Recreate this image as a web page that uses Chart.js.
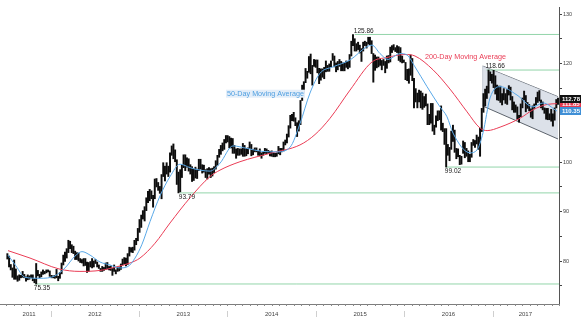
<!DOCTYPE html>
<html>
<head>
<meta charset="utf-8">
<script src="https://cdn.jsdelivr.net/npm/chart.js@4.4.1/dist/chart.umd.min.js"></script>
<style>
  html, body { margin: 0; padding: 0; background: #fff; }
  canvas { display: block; }
</style>
</head>
<body>
<canvas id="chart" width="581" height="322"></canvas>
<script>
// USD/JPY weekly trading ranges, first week Jul 4-8 2011, one row per calendar year
const weekHigh = [
  81.5, 81.0, 79.3, 78.6, 80.2, 78.4, 77.0, 77.2, 77.1, 77.9, 77.3, 76.8, 77.2, 77.0, 77.2, 77.2, 76.4, 79.5, 78.1, 77.3, 77.8, 78.2, 77.9, 78.2, 78.2, 78.0,
  77.1, 77.0, 77.1, 78.3, 76.9, 77.7, 79.6, 81.2, 81.8, 82.5, 84.2, 84.0, 83.3, 83.0, 82.0, 81.7, 81.6, 80.5, 80.3, 80.5, 80.5, 79.8, 79.7, 79.9, 80.5, 80.0,
  80.3, 79.8, 79.2, 78.5, 78.9, 78.7, 79.6, 79.7, 78.9, 79.0, 78.5, 79.2, 78.2, 78.7, 78.8, 79.4, 80.4, 80.7, 80.6, 81.5, 82.8, 82.7, 82.8, 84.2, 84.6, 86.6,
  88.4, 89.3, 90.2, 91.0, 92.8, 94.1, 94.5, 94.2, 93.3, 96.6, 96.7, 95.9, 95.1, 97.5, 99.9, 99.2, 99.9, 99.2, 101.9, 103.3, 103.7, 102.5, 100.5, 98.0, 98.5, 99.4,
  101.5, 101.5, 100.9, 100.7, 99.5, 99.1, 98.6, 99.0, 98.6, 100.6, 100.6, 99.5, 99.4, 98.5, 98.7, 98.9, 98.7, 98.8, 99.1, 100.3, 101.4, 102.6, 103.4, 103.9, 104.6, 105.4,
  105.4, 105.2, 104.9, 104.8, 103.4, 102.7, 102.8, 102.7, 102.7, 103.8, 103.4, 102.8, 102.9, 104.1, 103.6, 102.6, 102.9, 102.9, 102.2, 102.7, 101.9, 102.1, 102.8, 102.7, 102.4, 102.2, 102.3,
  101.9, 101.8, 101.9, 103.2, 102.8, 102.8, 104.1, 104.5, 105.7, 107.4, 109.5, 109.7, 110.1, 109.0, 108.0, 108.4, 112.5, 115.6, 116.3, 118.98, 118.4, 121.4, 121.9, 119.6, 120.8, 120.7,
  120.7, 119.0, 118.9, 118.9, 119.2, 120.5, 119.6, 119.9, 120.5, 122.0, 121.5, 120.1, 120.4, 120.8, 120.4, 120.1, 120.1, 120.5, 120.4, 121.8, 124.5, 125.86, 125.0, 124.0, 124.3, 123.7,
  123.0, 124.3, 124.5, 124.3, 125.3, 125.3, 124.6, 122.0, 121.7, 121.3, 121.3, 120.9, 120.6, 120.8, 120.4, 121.5, 121.6, 123.3, 123.6, 123.8, 123.2, 123.6, 123.4, 123.2, 121.5, 120.7,
  120.2, 118.8, 118.9, 121.7, 121.0, 117.0, 114.9, 114.0, 114.6, 114.4, 114.0, 113.3, 113.8, 111.8, 109.7, 111.9, 111.9, 107.5, 109.4, 110.4, 110.4, 111.4, 107.9, 106.8, 106.8, 103.6,
  103.0, 106.3, 107.5, 106.5, 102.8, 102.7, 101.4, 101.2, 104.3, 104.0, 102.8, 102.3, 101.6, 104.0, 104.6, 104.4, 105.5, 105.1, 106.9, 110.9, 113.9, 114.8, 115.4, 118.66, 118.3, 117.8,
  118.6, 117.5, 115.6, 115.4, 115.4, 113.9, 114.9, 113.9, 114.7, 115.5, 115.2, 113.3, 112.2, 111.6, 111.2, 109.5, 111.8, 113.0, 114.4, 113.5, 112.1, 111.7,
  110.8, 111.4, 111.8, 113.1, 114.2, 114.5, 112.6, 112.2, 111.0, 110.9, 110.9, 109.8, 110.7, 109.8, 111.0, 112.7, 113.0
];
const weekLow = [
  80.4, 78.8, 78.2, 76.7, 76.3, 76.3, 75.9, 76.1, 76.6, 76.7, 76.6, 75.9, 76.2, 76.3, 76.6, 76.0, 75.6, 75.35, 77.0, 76.6, 76.8, 77.3, 77.4, 77.6, 77.8, 76.9,
  76.6, 76.6, 76.5, 76.6, 76.0, 76.5, 77.4, 79.2, 79.9, 80.6, 81.7, 82.5, 81.7, 81.5, 80.3, 80.3, 80.0, 79.7, 79.6, 79.0, 79.1, 77.7, 77.9, 78.8, 78.6, 78.8,
  79.5, 78.8, 78.5, 77.9, 77.9, 78.1, 78.3, 78.4, 78.2, 78.1, 77.1, 77.9, 77.4, 77.9, 78.0, 78.3, 79.2, 79.4, 79.0, 79.3, 81.0, 81.8, 81.7, 82.2, 83.3, 84.1,
  85.8, 86.8, 88.5, 88.1, 90.2, 91.8, 92.2, 92.6, 90.9, 92.6, 95.0, 94.3, 93.7, 92.6, 97.1, 96.2, 97.6, 97.1, 98.0, 101.4, 100.7, 100.1, 95.5, 93.79, 94.0, 96.9,
  98.9, 98.3, 99.0, 98.2, 97.6, 96.1, 96.3, 96.8, 96.7, 98.3, 98.6, 97.8, 98.0, 96.9, 96.6, 97.6, 96.9, 97.2, 97.9, 98.6, 99.4, 101.0, 101.6, 102.3, 102.6, 103.9,
  104.1, 102.9, 102.9, 101.8, 101.8, 100.8, 101.4, 101.4, 101.6, 101.2, 101.2, 101.3, 101.7, 102.8, 101.3, 101.5, 102.1, 102.1, 101.4, 101.3, 100.8, 101.4, 101.8, 101.7, 101.8, 101.3, 101.2,
  101.1, 101.1, 101.2, 101.7, 101.5, 102.1, 102.3, 103.5, 103.9, 105.1, 106.9, 108.4, 108.3, 107.4, 105.2, 106.3, 107.6, 112.5, 114.0, 116.1, 117.0, 118.2, 117.9, 115.6, 119.4, 119.2,
  118.1, 115.9, 116.6, 117.2, 116.9, 118.3, 118.4, 118.4, 119.3, 120.6, 119.3, 118.3, 118.7, 119.4, 118.5, 118.5, 118.5, 119.2, 118.9, 119.2, 121.5, 123.6, 122.5, 122.5, 122.8, 122.1,
  120.4, 122.5, 123.6, 123.1, 123.9, 123.8, 122.0, 116.2, 118.6, 119.1, 119.3, 119.6, 118.7, 119.6, 118.1, 119.0, 120.1, 120.3, 122.2, 122.7, 122.4, 122.2, 120.6, 120.3, 120.1, 120.2,
  116.7, 116.5, 115.98, 117.6, 116.5, 110.98, 112.2, 111.0, 112.2, 111.0, 110.7, 111.1, 111.4, 107.6, 107.6, 107.9, 106.3, 105.6, 107.1, 108.4, 108.6, 106.5, 106.2, 103.6, 99.02, 101.4,
  100.3, 102.6, 104.2, 102.0, 100.7, 101.1, 99.5, 99.6, 101.8, 100.9, 101.2, 100.1, 100.1, 101.0, 103.4, 103.0, 103.7, 102.6, 101.2, 106.2, 110.1, 111.4, 112.9, 114.0, 116.5, 116.0,
  115.1, 113.8, 112.6, 112.5, 112.1, 111.6, 112.6, 111.9, 111.7, 113.6, 112.6, 110.6, 110.1, 110.1, 108.7, 108.1, 109.2, 111.0, 112.6, 110.2, 110.9, 110.4,
  109.1, 108.8, 110.9, 111.6, 112.1, 112.4, 111.0, 110.6, 109.9, 108.7, 108.6, 108.6, 108.3, 107.3, 108.5, 111.0, 111.7
];
const firstWeekMid = 2011.51;      // Wed Jul 6 2011 as a decimal year
const weekSpan = 7 / 365.25;
const lastPrice = 112.78;

// 50-day moving average (decimal year, level)
const ma50Dates = [2011.517, 2011.607, 2011.709, 2011.879, 2012.049, 2012.162, 2012.275, 2012.354, 2012.445, 2012.558,
  2012.671, 2012.784, 2012.874, 2012.954, 2013.033, 2013.124, 2013.237, 2013.350, 2013.463, 2013.576, 2013.689, 2013.802,
  2013.915, 2014.062, 2014.220, 2014.390, 2014.559, 2014.706, 2014.820, 2014.933, 2015.046, 2015.193, 2015.386, 2015.578,
  2015.635, 2015.725, 2015.816, 2015.951, 2016.031, 2016.121, 2016.257, 2016.404, 2016.483, 2016.551, 2016.744, 2016.823,
  2016.891, 2016.970, 2017.083, 2017.275, 2017.456, 2017.569, 2017.727];
const ma50Values = [81.2, 79.0, 76.7, 76.5, 77.0, 78.6, 81.0, 81.9, 81.2, 79.8,
  79.2, 78.6, 78.9, 80.6, 83.4, 88.0, 93.2, 97.1, 99.6, 98.9, 98.4, 98.2,
  99.8, 103.3, 102.8, 102.2, 102.1, 103.0, 107.8, 114.0, 118.0, 119.3, 120.7, 123.4,
  123.7, 122.0, 120.8, 122.0, 121.7, 119.3, 115.3, 111.2, 109.2, 105.9, 101.9, 102.5,
  106.0, 113.0, 115.3, 113.6, 111.2, 112.0, 110.35];

// 200-day moving average (decimal year, level)
const ma200Dates = [2011.517, 2011.766, 2012.094, 2012.331, 2012.558, 2012.761, 2012.897, 2013.010, 2013.180, 2013.350,
  2013.576, 2013.802, 2013.915, 2014.141, 2014.480, 2014.820, 2014.990, 2015.160, 2015.386, 2015.635, 2015.805, 2016.008,
  2016.121, 2016.325, 2016.517, 2016.710, 2016.857, 2016.937, 2017.083, 2017.309, 2017.456, 2017.615, 2017.727];
const ma200Values = [82.1, 80.6, 78.4, 77.9, 78.1, 78.9, 79.6, 80.6, 83.6, 87.7,
  92.8, 97.1, 98.4, 100.1, 101.8, 103.5, 105.6, 108.9, 114.6, 120.3, 121.2, 121.8,
  121.5, 118.7, 114.8, 110.2, 106.9, 106.4, 107.1, 108.9, 110.6, 111.7, 111.85];

// Support / resistance levels: value, date of the extreme, peak or trough
const levelValues = [125.86, 118.66, 99.02, 93.79, 75.35];
const levelDates = [2015.44, 2016.93, 2016.47, 2013.46, 2011.82];
const levelIsPeak = [true, true, false, false, false];

// Falling channel since the December 2016 high
const channelDates = [2016.887, 2017.739];
const channelUpper = [119.47, 113.26];
const channelLower = [111.38, 104.70];

const axisTicks = [75, 80, 85, 90, 95, 100, 105, 110, 115, 120, 125, 130];
const years = [2011, 2012, 2013, 2014, 2015, 2016, 2017];

const X_MIN = 2011.4265, X_MAX = 2017.75;
const Y_MIN = 71.3, Y_MAX = 131.42;
const FONT = '"Liberation Sans", Arial, sans-serif';

const lastWeekMid = firstWeekMid + (weekHigh.length - 1) * weekSpan;
const yearCenters = years.map(y => (Math.max(y, firstWeekMid) + Math.min(y + 1, lastWeekMid)) / 2);

const pts = (xs, ys) => xs.map((x, i) => ({ x, y: ys[i] }));
const weeks = weekHigh.map((h, i) => ({ x: firstWeekMid + i * weekSpan, y: [weekLow[i], h] }));

const datasets = [
  { type: 'line', data: pts(channelDates, channelUpper), borderColor: '#5d646d', borderWidth: 1,
    pointRadius: 0, fill: false, order: 12 },
  { type: 'line', data: pts(channelDates, channelLower), borderColor: '#5d646d', borderWidth: 1,
    pointRadius: 0, fill: '-1', backgroundColor: 'rgba(214,220,229,0.85)', order: 11 },
  { type: 'line', data: [{ x: channelDates[0], y: channelLower[0] }, { x: channelDates[0], y: channelUpper[0] }],
    borderColor: '#c3cad4', borderWidth: 1, pointRadius: 0, fill: false, order: 10 }
];
levelValues.forEach((v, i) => {
  datasets.push({ type: 'line', data: [{ x: levelDates[i], y: v }, { x: X_MAX, y: v }],
    borderColor: '#93d5aa', borderWidth: 1, pointRadius: 0, fill: false, order: 8 });
});
datasets.push({ type: 'bar', data: weeks, backgroundColor: '#0d0d0d', borderWidth: 0,
  barThickness: 1.3, grouped: false, order: 3 });
datasets.push({ type: 'line', data: pts(ma200Dates, ma200Values), borderColor: '#ea3c55', borderWidth: 1,
  pointRadius: 0, fill: false, cubicInterpolationMode: 'monotone', order: 2 });
datasets.push({ type: 'line', data: pts(ma50Dates, ma50Values), borderColor: '#58a8e8', borderWidth: 1,
  pointRadius: 0, fill: false, cubicInterpolationMode: 'monotone', order: 1 });

const overlay = {
  id: 'overlay',
  afterDraw(chart) {
    const { ctx, chartArea: a, scales: { x, y } } = chart;
    ctx.save();

    // monthly ticks under the time axis
    ctx.strokeStyle = '#888';
    ctx.lineWidth = 1;
    ctx.beginPath();
    for (let yr = 2011; yr <= 2017; yr++) {
      for (let m = 0; m < 12; m++) {
        const t = yr + m / 12;
        if (t < firstWeekMid - 0.02 || t > X_MAX) continue;
        const px = Math.round(x.getPixelForValue(t)) + 0.5;
        ctx.moveTo(px, a.bottom);
        ctx.lineTo(px, a.bottom + 2);
      }
    }
    ctx.stroke();

    // year separators
    ctx.strokeStyle = '#cfcfcf';
    ctx.beginPath();
    for (let yr = 2012; yr <= 2017; yr++) {
      const px = Math.round(x.getPixelForValue(yr)) + 0.5;
      ctx.moveTo(px, a.bottom + 7);
      ctx.lineTo(px, a.bottom + 13);
    }
    ctx.stroke();

    // level values
    ctx.font = '6.5px ' + FONT;
    ctx.fillStyle = '#222';
    ctx.textAlign = 'left';
    ctx.textBaseline = 'middle';
    levelValues.forEach((v, i) => {
      const px = x.getPixelForValue(levelDates[i]);
      const py = y.getPixelForValue(v);
      ctx.fillText(v.toFixed(2), px - 1, levelIsPeak[i] ? py - 3.5 : py + 4.5);
    });

    // moving-average captions
    ctx.font = '7.2px ' + FONT;
    ctx.fillStyle = '#ea3c55';
    ctx.fillText('200-Day Moving Average', x.getPixelForValue(2016.234), y.getPixelForValue(121.36));

    const cap50 = '50-Day Moving Average';
    const cx = x.getPixelForValue(2013.994), cy = y.getPixelForValue(113.87);
    const w = ctx.measureText(cap50).width;
    ctx.fillStyle = '#e4eef9';
    ctx.fillRect(cx - 1, cy - 4, w + 2, 8);
    ctx.fillStyle = '#4f9fe0';
    ctx.fillText(cap50, cx, cy);

    // last-value tags on the price axis
    const tag = (val, bg, fg) => {
      const py = Math.round(y.getPixelForValue(val));
      ctx.fillStyle = bg;
      ctx.fillRect(a.right + 1, py - 4, chart.width - a.right - 1, 8);
      ctx.fillStyle = fg;
      ctx.font = 'bold 6px ' + FONT;
      ctx.fillText(val.toFixed(2), a.right + 3, py + 0.5);
    };
    tag(ma200Values[ma200Values.length - 1], '#e5394f', '#fff');
    tag(lastPrice, '#111', '#fff');
    tag(ma50Values[ma50Values.length - 1], '#3f8fd6', '#fff');

    ctx.restore();
  }
};

new Chart(document.getElementById('chart'), {
  type: 'bar',
  data: { datasets },
  options: {
    responsive: false,
    animation: false,
    devicePixelRatio: 1,
    layout: { padding: { top: 7, left: 0, right: 0, bottom: 0 } },
    plugins: { legend: { display: false }, tooltip: { enabled: false } },
    scales: {
      x: {
        type: 'linear', position: 'bottom', min: X_MIN, max: X_MAX, offset: false,
        grid: { display: false, drawTicks: false },
        border: { display: true, color: '#7d7d7d', width: 1 },
        ticks: {
          autoSkip: false, maxRotation: 0, minRotation: 0, padding: 6.5, color: '#444',
          font: { family: FONT, size: 6 },
          callback: v => String(Math.floor(v))
        },
        afterBuildTicks: s => { s.ticks = yearCenters.map(v => ({ value: v })); },
        afterFit: s => { s.height = 18; }
      },
      y: {
        type: 'linear', position: 'right', min: Y_MIN, max: Y_MAX,
        grid: { drawOnChartArea: false, drawTicks: true, tickLength: 3, color: '#444' },
        border: { display: true, color: '#555', width: 1 },
        ticks: {
          padding: 1, color: '#444', font: { family: FONT, size: 5.5 },
          callback: v => (v % 10 === 0 ? String(v) : '')
        },
        afterBuildTicks: s => { s.ticks = axisTicks.map(v => ({ value: v })); },
        afterFit: s => { s.width = 22; }
      }
    }
  },
  plugins: [overlay]
});
</script>
</body>
</html>
